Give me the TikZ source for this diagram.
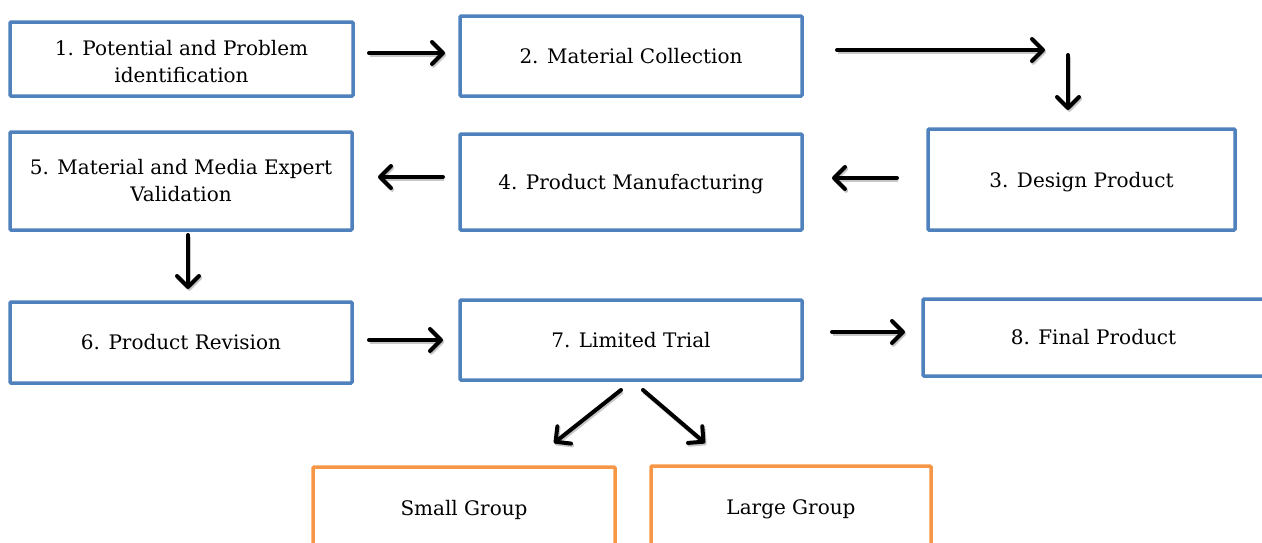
\documentclass[tikz,border=0pt]{standalone}
\usepackage{fontspec}
\setmainfont{DejaVu Serif}
\usetikzlibrary{arrows.meta,calc}
\definecolor{boxblue}{HTML}{4F81BD}
\definecolor{boxorange}{HTML}{F79646}
\newcommand{\lowertext}[2]{\raisebox{-#1}[\height][\depth]{#2}}
\tikzset{
  stepbox/.style={draw=boxblue, line width=3.5pt, rounded corners=1pt, fill=white,
    inner sep=0pt, outer sep=0pt, align=center, font=\fontsize{20}{27}\selectfont},
  groupbox/.style={stepbox, draw=boxorange},
  arr/.style={line width=4pt, line cap=round, black,
    -{Straight Barb[length=11pt,width=22pt,round]},
    preaction={draw=black!22, line width=4pt, transform canvas={shift={(1.2pt,-1.8pt)}}}},
}
\begin{document}
\begin{tikzpicture}[x=1pt,y=-1pt]
\useasboundingbox (0,0) rectangle (1262,542);
\clip (0,0) rectangle (1262,542);
\node[stepbox, minimum width=343pt, minimum height=74pt] (b1) at (181.5,59) {\lowertext{3pt}{1. Potential and Problem}\\\lowertext{3pt}{identification}};
\node[stepbox, minimum width=342pt, minimum height=80pt] (b2) at (631,56) {2. Material Collection};
\node[stepbox, minimum width=307pt, minimum height=101pt] (b3) at (1081.5,179.5) {\lowertext{3pt}{3. Design Product}};
\node[stepbox, minimum width=342pt, minimum height=96pt] (b4) at (631,182) {\lowertext{2pt}{4. Product Manufacturing}};
\node[stepbox, minimum width=342pt, minimum height=98pt] (b5) at (181,181) {5. Material and Media Expert\\Validation};
\node[stepbox, minimum width=342pt, minimum height=81pt] (b6) at (181,342.5) {6. Product Revision};
\node[stepbox, minimum width=342pt, minimum height=80pt] (b7) at (631,340) {7. Limited Trial};
\node[stepbox, minimum width=341pt, minimum height=77pt] (b8) at (1093.5,337.5) {8. Final Product};
\node[groupbox, minimum width=302pt, minimum height=85pt] (sg) at (464,509.5) {Small Group};
\node[groupbox, minimum width=280pt, minimum height=86pt] (lg) at (791,509) {Large Group};

\draw[arr] ([xshift=16pt,yshift=6pt]b1.east) -- ([xshift=-15pt,yshift=3pt]b2.west);
\draw[arr] ([xshift=35pt,yshift=6pt]b2.east) -- ([xshift=243pt,yshift=6pt]b2.east);
\draw[arr] ([xshift=-13.5pt,yshift=74pt]b3.north) -- ([xshift=-13.5pt,yshift=19pt]b3.north);
\draw[arr] ([xshift=-31pt,yshift=1.5pt]b3.west) -- ([xshift=30pt,yshift=4pt]b4.east);
\draw[arr] ([xshift=-17pt,yshift=5pt]b4.west) -- ([xshift=26pt,yshift=4pt]b5.east);
\draw[arr] ([xshift=7pt,yshift=-5pt]b5.south) -- ([xshift=7pt,yshift=13pt]b6.north);
\draw[arr] ([xshift=17pt,yshift=2.5pt]b6.east) -- ([xshift=-17pt]b7.west);
\draw[arr] ([xshift=30pt,yshift=8pt]b7.east) -- ([xshift=-18pt,yshift=5.5pt]b8.west);
\draw[arr] ([xshift=-10pt,yshift=-10pt]b7.south) -- ([xshift=90pt,yshift=24pt]sg.north);
\draw[arr] ([xshift=12pt,yshift=-10pt]b7.south) -- ([xshift=-86pt,yshift=23pt]lg.north);
\end{tikzpicture}
\end{document}
